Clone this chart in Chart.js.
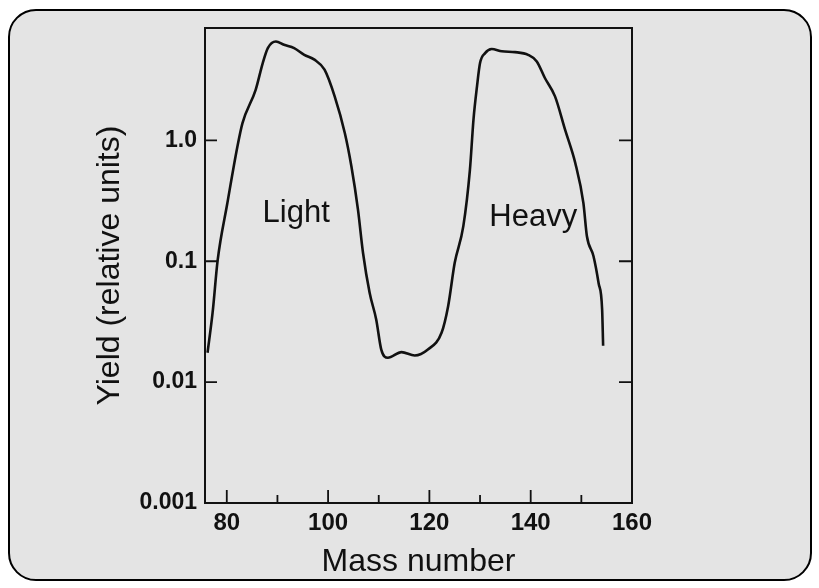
<!DOCTYPE html>
<html>
<head>
<meta charset="utf-8">
<script src="https://cdn.jsdelivr.net/npm/chart.js@4/dist/chart.umd.min.js"></script>
<style>
  html, body { margin: 0; padding: 0; background: #fff; }
  #frame {
    position: absolute; left: 8px; top: 9px; width: 800px; height: 568px;
    border: 2.5px solid #000; border-radius: 28px; background: #e4e4e4;
  }
  #wrap { position: absolute; left: 0; top: 0; width: 819px; height: 588px; }
</style>
</head>
<body>
<div id="frame"></div>
<div id="wrap"><canvas id="yieldChart" width="819" height="588"></canvas></div>
<script>
// fission yield curve
const massNumbers = [76.2, 77.2, 78.2, 80.1, 82.1, 83.1, 85.7, 87.1, 88.1, 89.7, 91.3, 93.3, 95.3, 97.3, 99.3,
  101.3, 103.3, 104.6, 105.9, 106.9, 108.2, 109.5, 110.5, 111.8, 114.5, 117.1, 119.7, 122.4, 123.7, 125.0,
  126.7, 128.0, 128.7, 129.4, 130.0, 131.0, 132.3, 134.3, 136.9, 139.5, 141.2, 142.8, 144.8, 146.8, 148.8,
  150.4, 151.1, 152.4, 153.4, 154.1, 154.3];
const yields = [0.0175, 0.0375, 0.102, 0.30, 0.89, 1.39, 2.62, 4.36, 5.8, 6.58, 6.18, 5.8, 5.1, 4.65, 3.84,
  2.31, 1.15, 0.61, 0.267, 0.117, 0.0548, 0.033, 0.0186, 0.0159, 0.0177, 0.0166, 0.0186, 0.0256, 0.0425, 0.097,
  0.195, 0.57, 1.48, 2.8, 4.36, 5.27, 5.7, 5.45, 5.37, 5.1, 4.5, 3.28, 2.31, 1.22, 0.65,
  0.304, 0.161, 0.11, 0.066, 0.04, 0.02];

const xTicks = [80, 100, 120, 140, 160];
const xMinorTicks = [90, 110, 130, 150];
const yTicks = [0.001, 0.01, 0.1, 1];
const yTickLabels = ['0.001', '0.01', '0.1', '1.0'];
const yMarks = [0.01, 0.1, 1];

const peakLabels = ['Light', 'Heavy'];
const peakX = [93.7, 140.5];
const peakY = [0.25, 0.229];

const ink = '#111';
const family = '"Liberation Sans", Arial, sans-serif';

// plot box, inward tick marks and the peak names
const decor = {
  id: 'decor',
  afterDraw(chart) {
    const { ctx, chartArea: a, scales: { x, y } } = chart;
    ctx.save();
    ctx.strokeStyle = ink;
    ctx.lineWidth = 2;
    ctx.strokeRect(a.left, a.top, a.right - a.left, a.bottom - a.top);

    ctx.lineWidth = 1.8;
    ctx.beginPath();
    xTicks.forEach(v => {
      if (v >= x.max) return;
      const px = x.getPixelForValue(v);
      ctx.moveTo(px, a.bottom); ctx.lineTo(px, a.bottom - 13);
    });
    xMinorTicks.forEach(v => {
      const px = x.getPixelForValue(v);
      ctx.moveTo(px, a.bottom); ctx.lineTo(px, a.bottom - 8);
    });
    yMarks.forEach(v => {
      const py = y.getPixelForValue(v);
      ctx.moveTo(a.left, py); ctx.lineTo(a.left + 12, py);
      ctx.moveTo(a.right, py); ctx.lineTo(a.right - 13, py);
    });
    ctx.stroke();

    ctx.fillStyle = ink;
    ctx.font = '31px ' + family;
    ctx.textAlign = 'center';
    ctx.textBaseline = 'middle';
    peakLabels.forEach((t, i) => {
      ctx.fillText(t, x.getPixelForValue(peakX[i]), y.getPixelForValue(peakY[i]));
    });
    ctx.restore();
  }
};

const ctx = document.getElementById('yieldChart').getContext('2d');

new Chart(ctx, {
  type: 'line',
  data: {
    datasets: [{
      label: 'Yield',
      data: massNumbers.map((m, i) => ({ x: m, y: yields[i] })),
      borderColor: ink,
      borderWidth: 2.6,
      pointRadius: 0,
      cubicInterpolationMode: 'monotone',
      fill: false
    }]
  },
  options: {
    responsive: false,
    animation: false,
    layout: { padding: { left: 0, top: 28, right: 187, bottom: 0 } },
    plugins: { legend: { display: false }, tooltip: { enabled: false } },
    scales: {
      x: {
        type: 'linear',
        min: 75.7,
        max: 160,
        afterBuildTicks: s => { s.ticks = xTicks.map(v => ({ value: v })); },
        afterFit: s => { s.height = 85; },
        grid: { display: false, drawTicks: false },
        border: { display: false },
        ticks: {
          color: ink,
          padding: 6,
          font: { family: family, size: 24, weight: 'bold' }
        },
        title: {
          display: true,
          text: 'Mass number',
          color: ink,
          padding: { top: 0, bottom: 7 },
          font: { family: family, size: 32 }
        }
      },
      y: {
        type: 'logarithmic',
        min: 0.001,
        max: 8.5,
        afterBuildTicks: s => { s.ticks = yTicks.map(v => ({ value: v })); },
        afterFit: s => { s.width = 205; },
        grid: { display: false, drawTicks: false },
        border: { display: false },
        ticks: {
          color: ink,
          padding: 8,
          autoSkip: false,
          font: { family: family, size: 23, weight: 'bold' },
          callback: v => {
            const i = yTicks.findIndex(t => Math.abs(t - v) < t * 1e-6);
            return i >= 0 ? yTickLabels[i] : '';
          }
        },
        title: {
          display: true,
          text: 'Yield (relative units)',
          color: ink,
          padding: { top: 91, bottom: 0 },
          font: { family: family, size: 32 }
        }
      }
    }
  },
  plugins: [decor]
});
</script>
</body>
</html>
